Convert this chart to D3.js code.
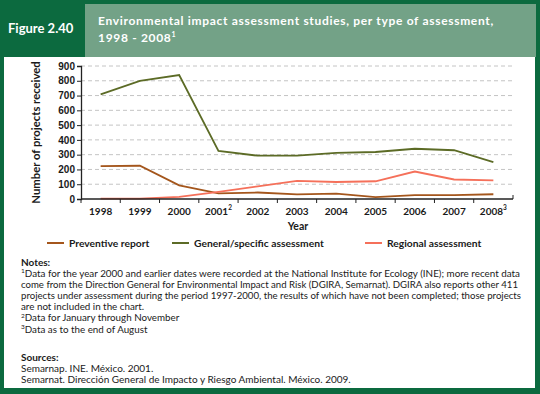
<!DOCTYPE html>
<html>
<head>
<meta charset="utf-8">
<script src="https://cdn.jsdelivr.net/npm/d3@7"></script>
<style>
  body { margin: 0; padding: 0; background: #0c6a3f; }
  svg { display: block; font-family: Lato, "Open Sans", sans-serif; }
</style>
</head>
<body>
<div id="chartDiv"></div>
<script>
// data
var years = ["1998", "1999", "2000", "2001", "2002", "2003", "2004", "2005", "2006", "2007", "2008"];
var yearNotes = ["", "", "", "2", "", "", "", "", "", "", "3"];
var preventive = [222, 225, 92, 38, 44, 31, 37, 13, 26, 26, 32];
var general = [708, 800, 839, 325, 293, 293, 312, 318, 340, 330, 250];
var regional = [2, 3, 14, 48, 86, 122, 115, 120, 186, 132, 126];
var yTicks = [0, 100, 200, 300, 400, 500, 600, 700, 800, 900];

var series = [
    {name: "Preventive report", values: preventive, color: "#a4561c", lx: 47},
    {name: "General/specific assessment", values: general, color: "#5c6b26", lx: 172},
    {name: "Regional assessment", values: regional, color: "#f5705a", lx: 365}
];

var notes = [
    "Data for the year 2000 and earlier dates were recorded at the National Institute for Ecology (INE); more recent data",
    "come from the Direction General for Environmental Impact and Risk (DGIRA, Semarnat). DGIRA also reports other 411",
    "projects under assessment during the period 1997-2000, the results of which have not been completed; those projects",
    "are not included in the chart.",
    "Data for January through November",
    "Data as to the end of August"
];
var noteSup = ["1", "", "", "", "2", "3"];
var sources = [
    "Semarnap. INE. México. 2001.",
    "Semarnat. Dirección General de Impacto y Riesgo Ambiental. México. 2009."
];

var W = 540, H = 394;
var svg = d3.select("#chartDiv").append("svg")
    .attr("width", W).attr("height", H);

// frame
svg.append("rect").attr("width", W).attr("height", H).attr("fill", "#0c6a3f");
svg.append("rect").attr("x", 85).attr("y", 4).attr("width", 451).attr("height", 53).attr("fill", "#73a287");
svg.append("rect").attr("x", 4).attr("y", 57).attr("width", 531).attr("height", 331).attr("fill", "#ffffff");

svg.append("text").attr("x", 8).attr("y", 33)
    .attr("fill", "#fff").style("font-size", "13px").style("font-weight", "bold")
    .text("Figure 2.40");

svg.append("text").attr("x", 98).attr("y", 25)
    .attr("fill", "#fff").style("font-size", "12px").style("font-weight", "bold")
    .style("letter-spacing", "0.68px")
    .text("Environmental impact assessment studies, per type of assessment,");
var t2 = svg.append("text").attr("x", 98).attr("y", 42)
    .attr("fill", "#fff").style("font-size", "12px").style("font-weight", "bold")
    .style("letter-spacing", "0.68px")
    .text("1998 - 2008");
t2.append("tspan").attr("dy", -5).style("font-size", "7px").text("1");

// chart area
var plotLeft = 81, plotRight = 513, plotTop = 66, plotBottom = 199;

var x = d3.scaleBand().domain(years).range([plotLeft, plotRight]);
var y = d3.scaleLinear().domain([0, 900]).range([plotBottom, plotTop]);

// gridlines
svg.append("g").selectAll("line")
    .data(yTicks.filter(function(d) { return d > 0; }))
    .enter().append("line")
    .attr("x1", plotLeft).attr("x2", plotRight + 2)
    .attr("y1", function(d) { return y(d); })
    .attr("y2", function(d) { return y(d); })
    .attr("stroke", "#c4c4c4").attr("stroke-width", 1)
    .attr("stroke-dasharray", "4,3");

// y axis
var yAxis = svg.append("g")
    .attr("transform", "translate(" + plotLeft + ",0)")
    .call(d3.axisLeft(y).tickValues(yTicks).tickSize(4).tickPadding(2));
yAxis.select(".domain").attr("stroke", "#222").attr("stroke-width", 1.3);
yAxis.selectAll(".tick line").attr("stroke", "#222");
yAxis.selectAll("text").style("font-size", "10px").style("font-weight", "bold").attr("fill", "#1a1a1a");

svg.append("text")
    .attr("transform", "translate(40," + ((plotTop + plotBottom) / 2) + ") rotate(-90)")
    .attr("text-anchor", "middle")
    .style("font-size", "11.3px").style("font-weight", "bold").attr("fill", "#1a1a1a")
    .text("Number of projects received");

// lines
var line = d3.line()
    .x(function(d, i) { return x(years[i]) + x.bandwidth() / 2; })
    .y(function(d) { return y(d); });

svg.append("g").selectAll("path")
    .data(series)
    .enter().append("path")
    .attr("d", function(d) { return line(d.values); })
    .attr("fill", "none")
    .attr("stroke", function(d) { return d.color; })
    .attr("stroke-width", 1.8);

// x axis
var xAxisG = svg.append("g").attr("transform", "translate(0," + plotBottom + ")");
xAxisG.append("line").attr("x1", plotLeft).attr("x2", plotRight)
    .attr("stroke", "#222").attr("stroke-width", 1.5);
xAxisG.selectAll(".tk")
    .data(years.concat(["end"]))
    .enter().append("line")
    .attr("x1", function(d, i) { return plotLeft + i * x.bandwidth(); })
    .attr("x2", function(d, i) { return plotLeft + i * x.bandwidth(); })
    .attr("y1", 0).attr("y2", function(d, i) { return i === years.length ? -4 : 4; })
    .attr("stroke", "#222").attr("stroke-width", 1);

var xl = xAxisG.selectAll(".xl")
    .data(years)
    .enter().append("text")
    .attr("x", function(d) { return x(d) + x.bandwidth() / 2; })
    .attr("y", 16)
    .attr("text-anchor", "middle")
    .style("font-size", "10px").style("font-weight", "bold").attr("fill", "#1a1a1a")
    .text(function(d) { return d; });
xl.filter(function(d, i) { return yearNotes[i] !== ""; })
    .append("tspan").attr("dy", -5).style("font-size", "6.5px")
    .text(function(d) { return yearNotes[years.indexOf(d)]; });

svg.append("text").attr("x", 298).attr("y", 230)
    .attr("text-anchor", "middle")
    .style("font-size", "10.5px").style("font-weight", "bold").attr("fill", "#1a1a1a")
    .text("Year");

// legend
var lg = svg.append("g").selectAll("g")
    .data(series)
    .enter().append("g")
    .attr("transform", function(d) { return "translate(" + d.lx + ",243)"; });
lg.append("line").attr("x1", 0).attr("x2", 17)
    .attr("stroke", function(d) { return d.color; }).attr("stroke-width", 2);
lg.append("text").attr("x", 22).attr("y", 3.8)
    .style("font-size", "10.3px").style("font-weight", "bold").attr("fill", "#1a1a1a")
    .text(function(d) { return d.name; });

// notes and sources
svg.append("text").attr("x", 21).attr("y", 265.5)
    .style("font-size", "10px").style("font-weight", "bold").attr("fill", "#1a1a1a")
    .text("Notes:");
var noteWidths = [499, 497, 500, 0, 0, 0];
svg.append("g").selectAll("text")
    .data(notes)
    .enter().append("text")
    .attr("x", 21)
    .attr("y", function(d, i) { return 276.5 + i * 11.2; })
    .style("font-size", "9.8px").attr("fill", "#1a1a1a")
    .each(function(d, i) {
        var t = d3.select(this);
        if (noteSup[i]) {
            t.append("tspan").attr("dy", -3.5).style("font-size", "6.5px").text(noteSup[i]);
            t.append("tspan").attr("dy", 3.5).text(d);
        } else {
            t.append("tspan").text(d);
        }
        if (noteWidths[i]) {
            t.attr("textLength", noteWidths[i]).attr("lengthAdjust", "spacingAndGlyphs");
        }
    });

svg.append("text").attr("x", 21).attr("y", 361)
    .style("font-size", "10px").style("font-weight", "bold").attr("fill", "#1a1a1a")
    .text("Sources:");
svg.append("g").selectAll("text")
    .data(sources)
    .enter().append("text")
    .attr("x", 21)
    .attr("y", function(d, i) { return 372 + i * 11; })
    .style("font-size", "10px").attr("fill", "#1a1a1a")
    .text(function(d) { return d; });
</script>
</body>
</html>
